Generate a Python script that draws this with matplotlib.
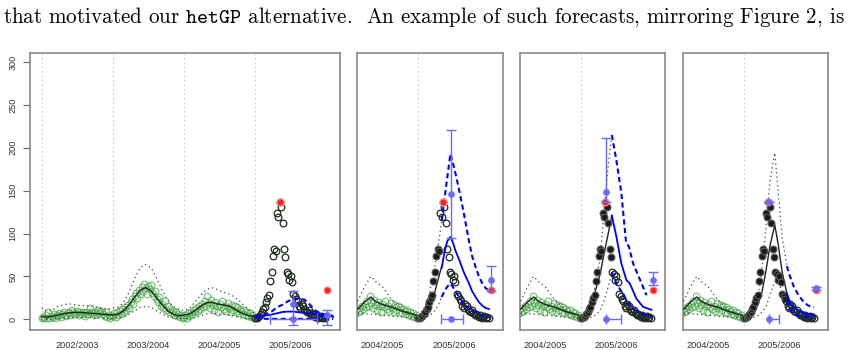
import numpy as np
import matplotlib
matplotlib.use("Agg")
import matplotlib.pyplot as plt

plt.rcParams["font.family"] = ["Liberation Sans", "DejaVu Sans"]
plt.rcParams["mathtext.fontset"] = "cm"

SEASONS = ["2002/2003", "2003/2004", "2004/2005", "2005/2006"]
SEASON_LEN = 52
HEADER = r"that motivated our $\mathtt{hetGP}$ alternative.  An example of such forecasts, mirroring Figure 2, is"

# weekly observations per season (week 0 = season start)
obs_0203 = [1, 3, 2, 5, 1, 9, 2, 4, 3, 6, 2, 5, 4, 7, 3, 6, 8, 5, 4, 9, 7, 5, 11, 8, 6, 7,
            10, 5, 8, 6, 9, 7, 4, 8, 6, 13, 9, 7, 5, 8, 6, 11, 7, 10, 9, 6, 4, 8, 3, 5, 2, 4]
obs_0304 = [4, 7, 3, 8, 5, 10, 6, 12, 9, 14, 11, 17, 13, 20, 24, 18, 27, 31, 25, 34, 29, 38, 33, 41, 36, 30,
            39, 35, 40, 31, 27, 33, 24, 20, 26, 15, 18, 13, 21, 11, 15, 9, 12, 7, 10, 5, 8, 4, 6, 3, 5, 2]
obs_0405 = [3, 5, 2, 7, 4, 9, 6, 11, 8, 13, 10, 15, 12, 18, 14, 21, 16, 27, 19, 13, 22, 17, 11, 20, 15, 9,
            18, 14, 21, 12, 16, 10, 19, 13, 8, 17, 11, 15, 9, 14, 7, 12, 10, 6, 11, 5, 8, 4, 7, 3, 5, 2]
obs_0506 = [1, 2, 3, 4, 6, 8, 12, 14, 20, 25, 28, 45, 55, 74, 82, 80, 124, 119, 137, 131, 112, 82, 73, 55, 53, 46,
            50, 43, 29, 27, 24, 21, 16, 13, 18, 15, 12, 10, 8, 11, 7, 5, 6, 4, 3, 5, 2, 3, 4, 2, 3, 2]
true_total_wk = 208.7
true_total = 34

# panel 1: fit over the three past seasons (every 4 weeks)
p1_fit_wk = list(range(0, 157, 4))
p1_mean = [3, 2.5, 3.5, 5, 6.5, 7.5, 8, 8, 7.5, 7, 6.5, 6, 5.5,
           5, 6, 10, 17, 26, 34, 37, 33, 25, 17, 10, 6, 4,
           5, 6, 10, 15, 19, 20, 18, 17, 16, 13, 9, 6, 4, 3]
p1_up = [13, 9, 11, 15, 17, 18, 17, 16, 16, 15, 14, 13, 12,
         13, 14, 20, 32, 48, 60, 64, 60, 48, 34, 22, 15, 12,
         10, 13, 20, 28, 34, 37, 35, 32, 30, 27, 22, 16, 10, 7]
p1_lo = [0, 0, 0.5, 1, 1.5, 2, 2, 2, 2, 2, 1.5, 1, 1,
         1, 2, 3, 6, 10, 14, 15, 14, 10, 6, 3, 2, 1,
         1, 1, 2, 4, 6, 7, 6, 6, 5, 4, 2, 1, 0.5, 0.5]
p1_fc_wk = [156, 160, 164, 168, 172, 176, 180, 184, 188, 192, 196, 200, 204, 208, 213]
p1_fc_mean = [3, 4, 4.5, 5.5, 7, 8.5, 9, 9, 8, 7.5, 7, 6, 5, 4, 3]
p1_fc_up = [3, 4, 6, 9, 14, 17, 21, 24, 24, 23, 17, 10, 7, 5, 4]
p1_fc_lo = [2, 1, 0.5, 0.5, 0.5, 0.5, 0.5, 0.5, 0.5, 0.5, 0.5, 0.5, 0.5, 0.5, 0.5]

# panels 2-4: fit on the tail of 2004/2005 plus the start of 2005/2006
tail_wk = [112, 117, 121.5, 125, 130, 137, 145, 152, 156]
tail_mean = [12, 20, 26, 21, 17, 14, 9, 6, 4]
tail_up = [21, 38, 50, 44, 38, 22, 11, 5, 4]
tail_lo = [7, 6.5, 6, 5.5, 5, 3.5, 2.5, 1.5, 1]

p2_fit_wk = [160, 164, 168, 171, 173]
p2_mean = [7, 16, 32, 50, 62]
p2_up = [12, 30, 62, 92, 115]
p2_lo = [1.5, 4, 10, 18, 26]
p2_fc_wk = [173, 175, 177, 179.3, 181, 183, 186, 189, 192.7, 195, 197.6, 200, 202.4, 205, 207.3]
p2_fc_mean = [60, 78, 91, 96, 90, 80, 68, 55, 42, 33, 26, 20, 16, 13, 12]
p2_fc_up = [115, 140, 165, 193, 183, 170, 148, 124, 92, 74, 61, 50, 42, 36, 34]
p2_fc_lo = [26, 33, 38, 41.6, 38, 33, 25, 18, 12, 10, 8.5, 6, 4, 3, 2]

p3_fit_wk = [160, 163, 166, 170, 173, 176, 178.6]
p3_mean = [7, 14, 30, 52, 77, 100, 121]
p3_up = [8, 16, 35, 70, 125, 180, 215]
p3_lo = [1, 2, 4, 10, 22, 38, 55]
p3_fc_wk = [178.6, 182, 185.6, 189.3, 191.7, 196.6, 201.5, 207.6]
p3_fc_mean = [121, 96, 65, 45.5, 42, 24, 14.4, 11]
p3_fc_up_wk = [178.6, 182, 185.6, 189, 191, 194.2, 200.3, 204]
p3_fc_up = [215, 185, 147, 90, 85, 65, 42, 28]
p3_fc_lo_wk = [178.6, 182, 185, 190, 196.5, 203, 207.5]
p3_fc_lo = [55, 42, 34, 20, 10, 5, 3]

p4_fit_wk = [160, 163, 166, 169, 172, 175, 178.6, 181, 184, 187.5]
p4_mean = [6, 10, 16, 30, 55, 85, 110, 88, 55, 30]
p4_up = [8, 14, 24, 55, 105, 160, 194, 150, 95, 62]
p4_lo = [1, 2, 4, 8, 14, 28, 44, 44, 32, 22]
p4_fc_wk = [187.5, 189, 192.5, 196, 199.8, 203, 207.3]
p4_fc_mean = [30, 22, 14, 10, 7, 6, 5.5]
p4_fc_up = [62, 53, 38, 28, 20, 16, 14]
p4_fc_lo = [22, 12, 6, 4, 3, 2, 1]

# forecast summaries per panel: peak height, peak time, season total
n_seen = [0, 16, 23, 31]
ph_wk = [183.8, 179.6, 174.2, 174.2]
ph_mid = [17.5, 146, 149, 137]
ph_lo = [-7, 94.5, 137, 137]
ph_hi = [33, 220.5, 211, 137]
pt_lo = [167.0, 172.6, 174.2, 174.2]
pt_hi = [201.2, 188.8, 185.2, 181.5]
tot_mid = [5, 45.5, 46, 36]
tot_lo = [-7, 33, 39.7, 34]
tot_hi = [10.5, 62, 55, 38]

GREEN = "#4aa84a"
BLUE = "#0000ff"
EB_BLUE = "#6a6aff"


def draw_panel(ax, i, fit_wk, fit_mean, fit_up, fit_lo, fc, xlim):
    for k in range(4):
        ax.axvline(k * SEASON_LEN, color="#c8c8c8", lw=0.8, ls=(0, (1.5, 2.5)), zorder=0)

    for k, obs in enumerate([obs_0203, obs_0304, obs_0405]):
        wk = k * SEASON_LEN + np.arange(len(obs))
        ax.plot(wk, obs, "o", mfc="none", mec=GREEN, ms=4.8, mew=0.8, alpha=0.75, zorder=2)

    ax.plot(fit_wk, fit_mean, color="#222222", lw=1.0, zorder=3)
    ax.plot(fit_wk, fit_up, color="#444444", lw=0.9, ls=(0, (1, 2.5)), zorder=3)
    ax.plot(fit_wk, fit_lo, color="#444444", lw=0.9, ls=(0, (1, 2.5)), zorder=3)

    cur = np.array(obs_0506)
    wk = 3 * SEASON_LEN + np.arange(len(cur))
    n = n_seen[i]
    ax.plot(wk[:n], cur[:n], "o", mfc="#1a1a1a", mec="#555555", ms=4.8, mew=0.9, zorder=4)
    ax.plot(wk[n:], cur[n:], "o", mfc="none", mec="#1e2b1e", ms=4.8, mew=0.9, zorder=4)

    (m_wk, m), (u_wk, u), (l_wk, l) = fc
    ax.plot(m_wk, m, color=BLUE, lw=1.3, zorder=5)
    ax.plot(u_wk, u, color=BLUE, lw=1.5, ls=(0, (2.5, 1.6)), zorder=5)
    ax.plot(l_wk, l, color=BLUE, lw=1.5, ls=(0, (2.5, 1.6)), zorder=5)

    j = int(np.argmax(cur))
    red = dict(ls="none", marker="o", mfc="#ff2020", mec="#ff9090", ms=5, mew=0.8, zorder=6)
    ax.plot(wk[j], cur[j], **red)
    ax.plot(true_total_wk, true_total, **red)

    eb = dict(fmt="o", color=EB_BLUE, ms=3.8, capsize=3.5, elinewidth=1.0, capthick=1.0, zorder=7)
    ax.errorbar(ph_wk[i], ph_mid[i], yerr=[[ph_mid[i] - ph_lo[i]], [ph_hi[i] - ph_mid[i]]], **eb)
    ax.errorbar(ph_wk[i], 0, xerr=[[ph_wk[i] - pt_lo[i]], [pt_hi[i] - ph_wk[i]]], **eb)
    ax.errorbar(true_total_wk, tot_mid[i], yerr=[[tot_mid[i] - tot_lo[i]], [tot_hi[i] - tot_mid[i]]], **eb)

    # only label seasons whose centre is inside the window
    ticks = [(k * SEASON_LEN + 26, s) for k, s in enumerate(SEASONS) if xlim[0] < k * SEASON_LEN + 26 < xlim[1]]
    ax.set_xticks([t for t, _ in ticks])
    ax.set_xticklabels([s for _, s in ticks], fontsize=6.6, color="#333333")
    ax.tick_params(axis="x", length=0, pad=8)
    ax.set_xlim(*xlim)
    ax.set_ylim(-12.5, 310.5)
    for s in ax.spines.values():
        s.set_color("#8a8a8a")
        s.set_linewidth(1.2)


def main():
    fig = plt.figure(figsize=(8.49, 3.5), dpi=100)
    W, H = 849, 350
    boxes = [(30, 310), (357, 146), (520, 145), (683, 145)]
    axes = [fig.add_axes([x / W, 20 / H, w / W, 277 / H]) for x, w in boxes]

    tail_then = lambda a, b: list(a) + list(b)
    draw_panel(axes[0], 0, p1_fit_wk, p1_mean, p1_up, p1_lo,
               [(p1_fc_wk, p1_fc_mean), (p1_fc_wk, p1_fc_up), (p1_fc_wk, p1_fc_lo)], (-8.5, 218))
    draw_panel(axes[1], 1, tail_then(tail_wk, p2_fit_wk), tail_then(tail_mean, p2_mean),
               tail_then(tail_up, p2_up), tail_then(tail_lo, p2_lo),
               [(p2_fc_wk, p2_fc_mean), (p2_fc_wk, p2_fc_up), (p2_fc_wk, p2_fc_lo)], (111.5, 217.5))
    draw_panel(axes[2], 2, tail_then(tail_wk, p3_fit_wk), tail_then(tail_mean, p3_mean),
               tail_then(tail_up, p3_up), tail_then(tail_lo, p3_lo),
               [(p3_fc_wk, p3_fc_mean), (p3_fc_up_wk, p3_fc_up), (p3_fc_lo_wk, p3_fc_lo)], (111.5, 217.5))
    draw_panel(axes[3], 3, tail_then(tail_wk, p4_fit_wk), tail_then(tail_mean, p4_mean),
               tail_then(tail_up, p4_up), tail_then(tail_lo, p4_lo),
               [(p4_fc_wk, p4_fc_mean), (p4_fc_wk, p4_fc_up), (p4_fc_wk, p4_fc_lo)], (111.5, 217.5))

    ax = axes[0]
    ax.set_yticks(range(0, 301, 50))
    ax.tick_params(axis="y", length=4.8, width=0.8, color="#666666", pad=4, labelsize=6.6, labelcolor="#333333")
    for lab in ax.get_yticklabels():
        lab.set_rotation(90)
        lab.set_va("center")
    for a in axes[1:]:
        a.set_yticks([])

    t = fig.text(3 / W, 1 - 17 / H, HEADER, fontfamily="cmr10", fontsize=13, ha="left", va="center")
    fig.canvas.draw()
    bb = t.get_window_extent()
    t.set_fontsize(13 * 842 / bb.width)

    fig.savefig("out.png", dpi=100)
    plt.close(fig)


if __name__ == "__main__":
    main()
